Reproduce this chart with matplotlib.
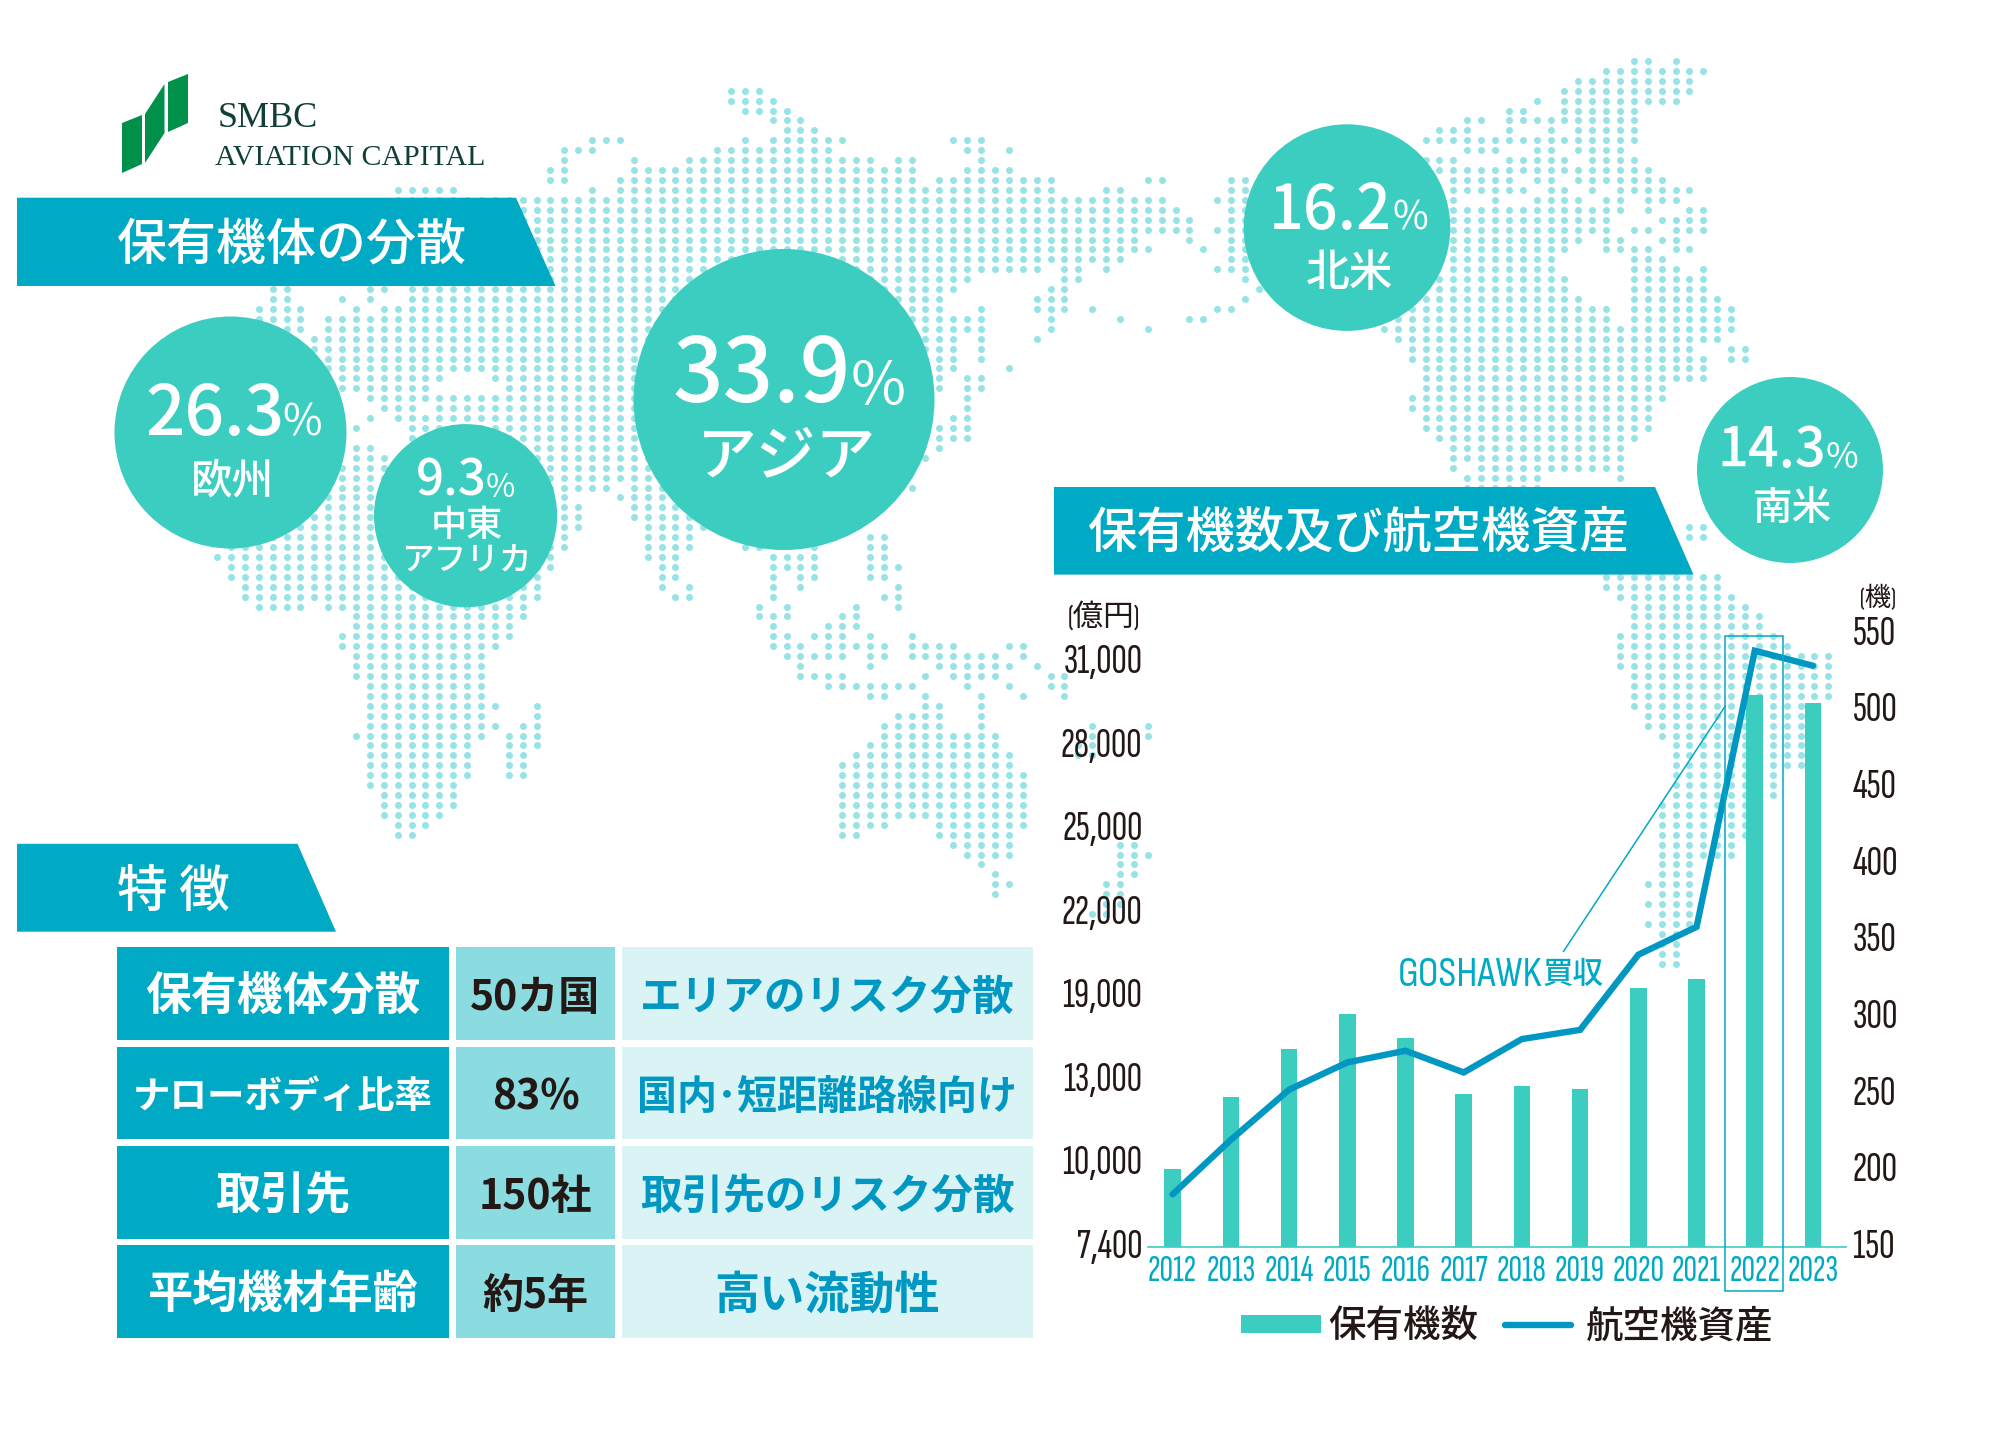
import matplotlib
matplotlib.use("Agg")
import numpy as np
import matplotlib.pyplot as plt
from matplotlib.patches import Polygon, Circle, Rectangle
from matplotlib.lines import Line2D
from matplotlib.transforms import ScaledTranslation

JP = ['Noto Sans CJK JP', 'DejaVu Sans']
NARROW = ['Sofia Sans Extra Condensed', 'Noto Sans CJK JP', 'DejaVu Sans']
SEMI = ['Sofia Sans Condensed', 'Noto Sans CJK JP', 'DejaVu Sans']
SERIF = ['Liberation Serif']
plt.rcParams['font.family'] = JP

# ---------- data ----------
years = [2012, 2013, 2014, 2015, 2016, 2017, 2018, 2019, 2020, 2021, 2022, 2023]
fleet = [201, 248, 279, 302, 286, 250, 255, 253, 319, 325, 510, 505]
assets = [9040, 10850, 12650, 14260, 15100, 13540, 15940, 16600, 20500, 21500, 31420, 30880]
left_ticks = [7400, 10000, 13000, 19000, 22000, 25000, 28000, 31000]
right_ticks = [150, 200, 250, 300, 350, 400, 450, 500, 550]

regions_pct = ['33.9', '26.3', '9.3', '16.2', '14.3']
regions_name = ['アジア', '欧州', '中東\nアフリカ', '北米', '南米']

table_col1 = ['保有機体分散', 'ナローボディ比率', '取引先', '平均機材年齢']
table_col2 = ['50カ国', '83%', '150社', '約5年']
table_col3 = ['エリアのリスク分散', '国内･短距離路線向け', '取引先のリスク分散', '高い流動性']

# dot map: grid row -> column spans
dot_rows = {
 -3: "101-102,104", -2: "99-106", -1: "97-105",
 0: "36-38,96-105", 1: "36-39,94,96-104", 2: "37-40,92-93,96-101",
 3: "39-41,89-90,92-101", 4: "40-42,87-89,92,95,97-101",
 5: "26-28,37,39-44,52-54,86-101",
 6: "24-26,35-43,53-54,56,89-91,94-95,97-100",
 7: "24,29,33-46,48-49,54,86-88,92-96,98-101",
 8: "23-24,29-49,53-56,87-102",
 9: "23-24,28-49,51-59,66-67,72-73,88-92,94-95,97-103",
 10: "12-16,26,28-59,63-64,72-73,88-93,95-96,98,100-105",
 11: "12-67,71-73,88,91,94-97,99-100,102-104",
 12: "12-68,72-73,88-100,102,105-106",
 13: "12-69,72-73,88-99,103-106",
 14: "12-69,71-73,88-99,101-102,104-106",
 15: "12-65,69,72-73,88-97,99-100,103-104",
 16: "12-66,70,72-73,88-96,99-102,104-105",
 17: "12-64,72-73,88-95,101-103",
 18: "12-58,60-61,63,71-73,88-95,101-104,106",
 19: "12-53,60-61,73,87-96,101-106",
 20: "3-4,10-11,13-52,59-60,74,87-96,101-106",
 21: "3-4,8,10,13-51,58-60,73,86-97,101-107",
 22: "2-5,9,11-51,54,58-60,62,71-72,85-99,101-108",
 23: "2-5,7-54,59,64,69-70,84-99,101-108",
 24: "2-5,7-54,59,66,83-108",
 25: "6-52,54,58,84-107",
 26: "6-52,54,85-105,108-109",
 27: "7-52,54,85-106,108-109",
 28: "7-52,56,86-106",
 29: "8-15,19-51,53-54,86-106",
 30: "8-14,20-51,53-54,86-103",
 31: "10-46,53,85-103",
 32: "11-13,15-46,53,85-102",
 33: "10,12-46,52-53,86-102",
 34: "9,13-46,51-53,86-102",
 35: "13-46,51-53,87-101",
 36: "9-10,13-46,51,88-100",
 37: "9-11,13-46,50,88-100",
 38: "8-46,88,90-100",
 39: "8-31,89-94,100",
 40: "2-27,29-31,49,89-94",
 41: "2-24,28-31",
 42: "2-25,29-32",
 43: "2-25,29-33",
 44: "2-25,30-34,105-106",
 45: "0-24,30-33,46-47,105-106",
 46: "0-24,30-33,37-38,42,46-47",
 47: "-1,0-23,30-32,39-42,46-47",
 48: "0-23,31-32,39-42,46-48",
 49: "0-22,31-32,39,41-42,46-47,99-107",
 50: "1-22,31,33,39,41,48,99-107",
 51: "1-22,32-33,39,47-48,100-108",
 52: "2-5,7-21,38,40,45,48,101-109",
 53: "9-21,38-40,44-45,101-110",
 54: "9-20,39,43-45,101-110",
 55: "8-20,39-40,42-44,46,49,100-111",
 56: "8-19,39-41,43-47,49-52,56-57,100-112",
 57: "9-18,40-44,46-47,49-55,57,100-115",
 58: "9-18,41,46,51-56,58,100-115",
 59: "9-18,41-44,50,52-55,59-60,101-115",
 60: "10-18,43-49,53,56,59-60,101-115",
 61: "10-18,46-47,50,54,57,60,101-115",
 62: "10-19,22,50-51,54,101-113",
 63: "10-18,22,48-51,54,102-113",
 64: "10-19,21-22,47-51,54,62,66,102-113",
 65: "9-18,20-22,47-55,62,66,103-113",
 66: "10-17,20-22,46-55,61-62,104-113",
 67: "10-17,20-21,45-56,61-62,104-113",
 68: "10-17,20-21,44-56,104-113",
 69: "10-17,20-21,44-57,104-111",
 70: "10-16,44-57,104-111",
 71: "11-16,44-57,104-111",
 72: "11-16,44-57,103-109",
 73: "11-15,44-57,103-109",
 74: "12-14,44-47,51-57,103-109",
 75: "12-13,44-45,51-56,103-109",
 76: "52-56,64-65,103-108",
 77: "53-56,64-66,103-108",
 78: "54,64-65,103-105",
 79: "55,64-65,103-105",
 80: "55-56,63-64,102-105",
 81: "55,63-64,103-105",
 82: "63-64,102-105",
 83: "62-63,103-105",
 84: "102-105",
 85: "103-104", 86: "103-104", 87: "103-104", 88: "103-104",
}

# ---------- colours ----------
TEAL = '#00A9C4'
MINT = '#3CCDC1'
DOT = '#97E3E5'
BLUE = '#0098C2'
INK = '#231815'
GREEN = '#00904A'
DKGREEN = '#0F3F36'
HEAVY = 700
MEDIUM = 500

W, H = 2015, 1436
fig = plt.figure(figsize=(W / 100, H / 100), dpi=100, facecolor='white')

bg = fig.add_axes([0, 0, 1, 1], zorder=0)
bg.set_xlim(0, W); bg.set_ylim(H, 0); bg.axis('off')

# dots
xs, ys = [], []
for row, spans in dot_rows.items():
    for sp in spans.split(','):
        if sp.startswith('-'):
            a = b = int(sp)
        elif '-' in sp:
            a, b = map(int, sp.split('-'))
        else:
            a = b = int(sp)
        for c in range(a, b + 1):
            xs.append(231 + 13.89 * c)
            ys.append(90.7 + 9.92 * row)
bg.scatter(xs, ys, s=25.5, c=DOT, linewidths=0, zorder=1)

# logo
for poly in ([(122, 123), (142, 115), (142, 164), (122, 173)],
             [(145, 114), (164.5, 84), (164.5, 133), (145, 163)],
             [(168, 82), (188, 74), (188, 123), (168, 132)]):
    bg.add_patch(Polygon(poly, closed=True, fc=GREEN, ec='none', zorder=3))
bg.text(267.5, 127, 'SMBC', family=SERIF, fontsize=26, color=DKGREEN, ha='center', va='baseline', zorder=3)
bg.text(350.5, 165, 'AVIATION CAPITAL', family=SERIF, fontsize=21.5, color=DKGREEN, ha='center', va='baseline', zorder=3)

# banners
def banner(x0, x1, x2, y0, y1, label, tx, ty, fs):
    bg.add_patch(Polygon([(x0, y0), (x1, y0), (x2, y1), (x0, y1)], closed=True, fc=TEAL, ec='none', zorder=3))
    bg.text(tx, ty, label, color='white', fontsize=fs, ha='center', va='center', weight=MEDIUM, zorder=4)

banner(17, 516, 555.5, 197.7, 286, '保有機体の分散', 291.5, 245, 36)
banner(1054, 1655, 1693.5, 487, 574.6, '保有機数及び航空機資産', 1358, 534, 35.5)
banner(17, 297.5, 336, 843.8, 931.7, '特 徴', 173, 892, 36.5)

# region circles: cx, cy, r, number right x, percent left x, number y, number fs, pct fs, name x, name y, name fs
circles = [
    (784, 399.5, 150.5, 851, 851, 377, 64, 43, 787, 457, 43),
    (230.5, 432.5, 116, 285, 282, 415, 50, 31, 233, 481, 30),
    (465.6, 515.7, 91.6, 487, 486, 482, 35.5, 23, 0, 0, 0),
    (1347, 227.6, 103.3, 1392, 1393, 211, 44, 28, 1350, 273, 31.5),
    (1790, 470, 93, 1826, 1826, 451, 39, 25.5, 1792, 509, 28.5),
]
for (cx, cy, r, sx, px, ny, nfs, pfs, tx, ty, tfs), pct, name in zip(circles, regions_pct, regions_name):
    bg.add_patch(Circle((cx, cy), r, fc=MINT, ec='none', zorder=5))
    bg.text(sx, ny, pct, color='white', fontsize=nfs, ha='right', va='center', weight=MEDIUM, zorder=6)
    bg.text(px, ny + nfs * 0.17, '%', color='white', fontsize=pfs, ha='left', va='center', zorder=6)
    if tfs:
        bg.text(tx, ty, name, color='white', fontsize=tfs, ha='center', va='center', weight=MEDIUM, zorder=6)
# two-line label of the smallest circle
top_name, bottom_name = regions_name[2].split('\n')
bg.text(467, 526, top_name, color='white', fontsize=26, ha='center', va='center', weight=MEDIUM, zorder=6)
bg.text(466.5, 561, bottom_name, color='white', fontsize=23.5, ha='center', va='center', weight=MEDIUM, zorder=6)

# table
row_tops = [947, 1046.5, 1146, 1245]
row_h = 92.6
col_x = [(117, 449), (455.7, 615), (622, 1033)]
col_c = ['#00A9C4', '#8ADCE0', '#DAF4F5']
col1_fs = [33, 27, 32.5, 32.5]
col3_fs = [30, 28.8, 30, 32.5]
for r, top_y in enumerate(row_tops):
    for (x0, x1), c in zip(col_x, col_c):
        bg.add_patch(Rectangle((x0, top_y), x1 - x0, row_h, fc=c, ec='none', zorder=3))
    mid = top_y + row_h / 2
    bg.text(283, mid + 3.5, table_col1[r], color='white', fontsize=col1_fs[r], ha='center', va='center', weight=HEAVY, zorder=4)
    bg.text(535.5, mid + 5, table_col2[r], color=INK, fontsize=29.5, ha='center', va='center', weight=HEAVY, zorder=4)
    bg.text(827.5, mid + 4.5, table_col3[r], color=BLUE, fontsize=col3_fs[r], ha='center', va='center', weight=HEAVY, zorder=4)

# ---------- chart ----------
def to_fig(x0, x1, y_top, y_bot):
    return [x0 / W, 1 - y_bot / H, (x1 - x0) / W, (y_bot - y_top) / H]

ax_r = fig.add_axes(to_fig(1148, 1846, 633.6, 1247), zorder=1)
ax_r.patch.set_alpha(0)
step = 58.2
ax_r.set_xlim(2012 - (1172.6 - 1148) / step, 2023 + (1846 - 1813) / step)
ax_r.bar(years, fleet, width=0.285, color=MINT, zorder=2)
ax_r.set_ylim(150, 550)
ax_r.set_xticks(years)
ax_r.set_xticklabels([str(y) for y in years], family=NARROW, fontsize=27, color=TEAL)
ax_r.tick_params(axis='x', length=0, pad=6)
for s in ['top', 'left', 'right']:
    ax_r.spines[s].set_visible(False)
ax_r.spines['bottom'].set_color(MINT)
ax_r.spines['bottom'].set_linewidth(1.2)

ax_l = ax_r.twinx()
ax_l.set_zorder(2)
ax_l.patch.set_alpha(0)
ax_r.yaxis.tick_right()
ax_r.set_yticks(right_ticks)
ax_r.set_yticklabels([str(v) for v in right_ticks], family=NARROW, fontsize=31, color=INK)
ax_r.tick_params(axis='y', length=0, pad=5)

axis_vals = left_ticks + [34000]
axis_idx = list(range(len(axis_vals)))
ax_l.set_yscale('function', functions=(
    lambda v: np.interp(v, axis_vals, axis_idx),
    lambda t: np.interp(t, axis_idx, axis_vals)))
ax_l.set_ylim(7400, 32035)
ax_l.plot(years, assets, color=BLUE, lw=4.6, solid_joinstyle='miter', solid_capstyle='round', zorder=3)
ax_l.yaxis.tick_left()
ax_l.set_yticks(left_ticks)
ax_l.set_yticks([], minor=True)
ax_l.set_yticklabels([f'{v:,}' for v in left_ticks], family=NARROW, fontsize=30.5, color=INK)
ax_l.tick_params(axis='y', length=0, pad=4)
for s in ax_l.spines.values():
    s.set_visible(False)

# lift numeric tick labels a few pixels
lift = ScaledTranslation(0, 3.5 / 100, fig.dpi_scale_trans)
for ax in (ax_r, ax_l):
    for lab in ax.get_yticklabels():
        lab.set_transform(lab.get_transform() + lift)

# overlay annotations
top = fig.add_axes([0, 0, 1, 1], zorder=3)
top.set_xlim(0, W); top.set_ylim(H, 0); top.axis('off')
top.patch.set_alpha(0)
top.add_patch(Rectangle((1725, 636), 58.4, 655, fc='none', ec=TEAL, lw=1.1))
top.add_line(Line2D([1563.5, 1725], [951.4, 706.5], color=TEAL, lw=1.1))
top.text(1542, 975, 'GOSHAWK', family=SEMI, fontsize=30, color=TEAL, ha='right', va='center', weight=MEDIUM)
top.text(1573, 974, '買収', fontsize=22, color=TEAL, ha='center', va='center', weight=MEDIUM)
top.text(1104, 617, '(億円)', family=NARROW, fontsize=22, color=INK, ha='center', va='center')
top.text(1878, 598, '(機)', family=NARROW, fontsize=19, color=INK, ha='center', va='center')
top.add_patch(Rectangle((1241, 1314.7), 80, 18.3, fc=MINT, ec='none'))
top.text(1403.5, 1326, '保有機数', color=INK, fontsize=27, ha='center', va='center', weight=MEDIUM)
top.add_line(Line2D([1505, 1571], [1325, 1325], color=BLUE, lw=4.6, solid_capstyle='round'))
top.text(1680, 1326, '航空機資産', color=INK, fontsize=27, ha='center', va='center', weight=MEDIUM)

fig.savefig('out.png', dpi=100, facecolor='white')
